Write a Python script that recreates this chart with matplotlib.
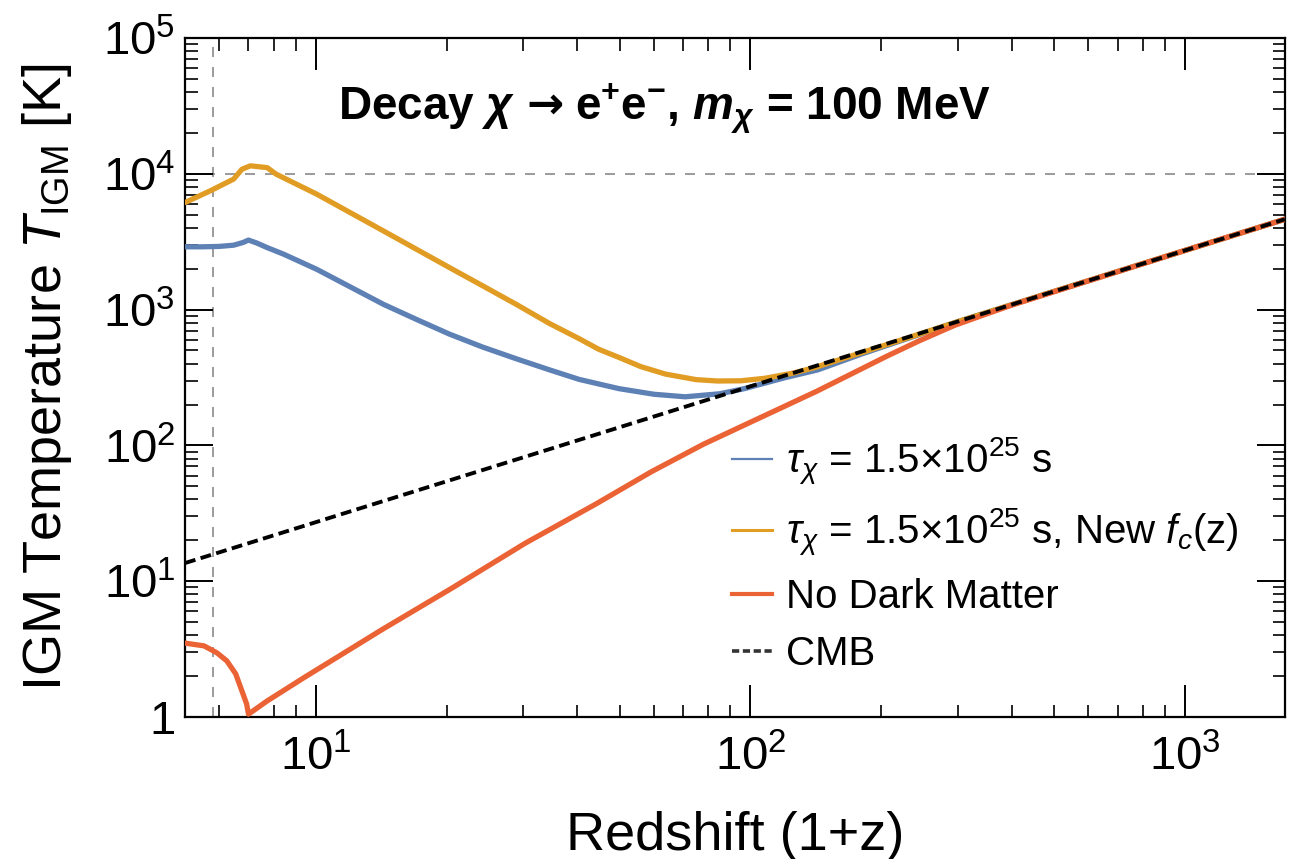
import numpy as np
import matplotlib
matplotlib.use("Agg")
import matplotlib.pyplot as plt
from matplotlib.lines import Line2D
from matplotlib.ticker import LogLocator, NullFormatter

plt.rcParams['font.family'] = ['Liberation Sans', 'DejaVu Sans']
plt.rcParams['mathtext.fontset'] = 'custom'
plt.rcParams['mathtext.rm'] = 'Liberation Sans'
plt.rcParams['mathtext.it'] = 'Liberation Sans:italic'
plt.rcParams['mathtext.bf'] = 'Liberation Sans:bold'
plt.rcParams['mathtext.bfit'] = 'Liberation Sans:bold:italic'

# ---------------- data ----------------
x_blue = [5.0, 5.5, 6.0, 6.47, 6.8, 7.0, 7.3, 7.73, 8.43, 10.05, 12.0, 14.3, 17.0, 20.3,
          24.2, 28.9, 34.5, 40.4, 49.8, 60.0, 70.8, 85.0, 97.0, 120.0, 143.0, 180.0,
          250.0, 300.0, 500.0, 1000.0, 1700.0]
y_blue = [2900, 2900, 2920, 2980, 3120, 3250, 3100, 2860, 2560, 1980, 1470, 1095, 850, 660,
          530, 435, 360, 306, 262, 238, 228, 240, 262, 315, 360, 470,
          670, 815, 1362, 2725, 4630]

x_yel = [5.0, 5.72, 6.47, 6.76, 7.07, 7.73, 8.1, 10.05, 14.3, 20.3, 24.0, 28.9, 34.5,
         40.4, 44.8, 49.8, 56.0, 63.8, 75.0, 84.0, 95.0, 108.0, 125.0, 141.0, 218.0,
         300.0, 500.0, 1000.0, 1700.0]
y_yel = [6140, 7500, 9140, 10800, 11450, 11100, 9950, 7080, 3800, 2040, 1520, 1095, 790,
         610, 510, 445, 380, 335, 305, 298, 299, 312, 340, 375, 585,
         815, 1362, 2725, 4630]

x_red = [5.0, 5.53, 5.92, 6.24, 6.54, 6.72, 6.93, 7.0, 7.72, 9.37, 14.2, 20.7, 30.3,
         44.1, 59.2, 78.0, 100.0, 142.0, 205.0, 245.0, 295.0, 340.0, 400.0, 1000.0, 1700.0]
y_red = [3.5, 3.34, 2.97, 2.59, 2.08, 1.64, 1.25, 1.05, 1.31, 1.94, 4.4, 9.0, 19.0,
         37.0, 64.0, 102.0, 148.0, 250.0, 450.0, 590.0, 765.0, 900.0, 1080.0, 2725.0, 4630.0]

x_cmb = [5.0, 10.0, 100.0, 1000.0, 1700.0]
y_cmb = [13.6, 27.2, 272.0, 2725.0, 4630.0]

x_reion = 5.8          # vertical dashed guide
y_guide = 1.0e4        # horizontal dashed guide

y_ticks = [1, 10, 100, 1000, 10000, 100000]
y_ticklabels = ['1', r'$10^{1}$', r'$10^{2}$', r'$10^{3}$', r'$10^{4}$', r'$10^{5}$']
x_ticks = [10, 100, 1000]
x_ticklabels = [r'$10^{1}$', r'$10^{2}$', r'$10^{3}$']

labels = [r'$\tau_{\chi}$ = 1.5×10$^{25}$ s',
          r'$\tau_{\chi}$ = 1.5×10$^{25}$ s, New $f_{c}$(z)',
          'No Dark Matter',
          'CMB']

title_parts = [r'Decay $\mathbfit{\chi}$',
               '→',
               r'e$^{\mathbf{+}}$e$^{\mathbf{-}}$, $\mathbfit{m}_{\mathbfit{\chi}}$ = 100 MeV']

c_blue = '#5E81B5'
c_yel = '#E19C24'
c_red = '#EB6235'

# ---------------- figure ----------------
W, H = 1291, 859
fig = plt.figure(figsize=(W / 100, H / 100), dpi=100)
L, R, T, B = 185, 1285, 38, 717
ax = fig.add_axes([L / W, 1 - B / H, (R - L) / W, (B - T) / H])
ax.set_xscale('log')
ax.set_yscale('log')
ax.set_xlim(5, 1700)
ax.set_ylim(1, 1e5)

ax.axhline(y_guide, color='#8a8a8a', lw=1.2, dashes=(6, 6), zorder=1)
ax.axvline(x_reion, color='#8a8a8a', lw=1.2, dashes=(6, 6), zorder=1)

ax.plot(x_blue, y_blue, color=c_blue, lw=3.8, solid_capstyle='round',
        solid_joinstyle='round', zorder=3)
ax.plot(x_yel, y_yel, color=c_yel, lw=3.8, solid_capstyle='round',
        solid_joinstyle='round', zorder=4)
ax.plot(x_red, y_red, color=c_red, lw=3.8, solid_capstyle='round',
        solid_joinstyle='round', zorder=5)
ax.plot(x_cmb, y_cmb, color='black', lw=2.8, dashes=(2.8, 1.4), zorder=6)

for s in ax.spines.values():
    s.set_linewidth(1.6)

ax.set_yticks(y_ticks, y_ticklabels)
ax.set_xticks(x_ticks, x_ticklabels)
ax.yaxis.set_minor_locator(LogLocator(base=10, subs=np.arange(2, 10)))
ax.xaxis.set_minor_locator(LogLocator(base=10, subs=np.arange(2, 10)))
ax.yaxis.set_minor_formatter(NullFormatter())
ax.xaxis.set_minor_formatter(NullFormatter())

ax.tick_params(axis='both', which='both', direction='in', top=True, right=True)
ax.tick_params(axis='y', which='major', length=20, width=1.4, labelsize=34, pad=7)
ax.tick_params(axis='y', which='minor', length=9, width=1.2)
ax.tick_params(axis='x', which='major', length=23, width=1.4, labelsize=34, pad=13)
ax.tick_params(axis='x', which='minor', length=9, width=1.2)

ax.set_xlabel('Redshift (1+z)', fontsize=39, labelpad=22)
ax.set_ylabel(r'IGM Temperature $T_{\rm IGM}$ [K]', fontsize=39, labelpad=21)

# title built from three pieces so the arrow can use a bolder glyph
renderer = fig.canvas.get_renderer()
yb = 1 - 119 / H
t1 = fig.text(338 / W, yb, title_parts[0], ha='left', va='baseline',
              fontsize=33, fontweight='bold')
bb1 = t1.get_window_extent(renderer)
t2 = fig.text((bb1.x1 + 11) / W, yb + 1 / H, title_parts[1], ha='left', va='baseline',
              fontsize=32, fontweight='bold', family=['DejaVu Sans'])
bb2 = t2.get_window_extent(renderer)
t3 = fig.text((bb2.x1 + 11) / W, yb, title_parts[2], ha='left', va='baseline',
              fontsize=33, fontweight='bold')

handles = [Line2D([], [], color=c_blue, lw=1.6),
           Line2D([], [], color=c_yel, lw=2.2),
           Line2D([], [], color=c_red, lw=3.0),
           Line2D([], [], color='#333333', lw=2.6, dashes=(2.0, 1.0))]
leg = fig.legend(handles, labels, loc='upper left',
                 bbox_to_anchor=(732 / W, 1 - 436 / H), bbox_transform=fig.transFigure,
                 frameon=False, fontsize=29, handlelength=1.0, handletextpad=0.35,
                 labelspacing=0.47, borderpad=0, borderaxespad=0)

fig.savefig('out.png', dpi=100)
